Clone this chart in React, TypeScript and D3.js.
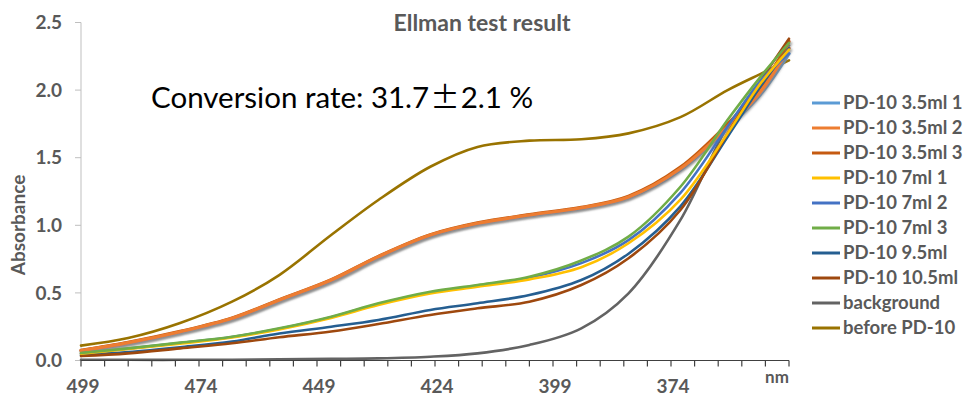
import React from "react";
import * as d3 from "d3";

const wavelengths = [499, 489, 478, 467, 457, 446, 436, 425, 415, 404, 393, 383, 372, 362, 355, 349];

const seriesNames = [
  "PD-10 3.5ml 1",
  "PD-10 3.5ml 2",
  "PD-10 3.5ml 3",
  "PD-10 7ml 1",
  "PD-10 7ml 2",
  "PD-10 7ml 3",
  "PD-10 9.5ml",
  "PD-10 10.5ml",
  "background",
  "before PD-10",
];

const seriesColors = [
  "#5B9BD5",
  "#ED7D31",
  "#C55A11",
  "#FFC000",
  "#4472C4",
  "#70AD47",
  "#255E91",
  "#9E480E",
  "#636363",
  "#997300",
];

const pd35ml1 = [0.072, 0.13, 0.211, 0.31, 0.445, 0.592, 0.765, 0.925, 1.012, 1.073, 1.127, 1.205, 1.41, 1.72, 1.97, 2.27];
const pd35ml2 = [0.073, 0.132, 0.213, 0.312, 0.447, 0.595, 0.768, 0.928, 1.015, 1.076, 1.13, 1.21, 1.42, 1.73, 1.99, 2.31];
const pd35ml3 = [0.075, 0.134, 0.215, 0.314, 0.449, 0.597, 0.77, 0.93, 1.018, 1.079, 1.133, 1.215, 1.43, 1.75, 2.02, 2.36];
const pd7ml1 = [0.05, 0.085, 0.125, 0.17, 0.23, 0.315, 0.41, 0.495, 0.545, 0.6, 0.69, 0.867, 1.19, 1.68, 2.05, 2.3];
const pd7ml2 = [0.053, 0.088, 0.13, 0.174, 0.235, 0.32, 0.418, 0.503, 0.552, 0.612, 0.72, 0.89, 1.24, 1.73, 2.07, 2.27];
const pd7ml3 = [0.055, 0.09, 0.132, 0.176, 0.238, 0.324, 0.423, 0.509, 0.558, 0.62, 0.74, 0.916, 1.285, 1.78, 2.1, 2.35];
const pd95ml = [0.04, 0.062, 0.098, 0.14, 0.2, 0.25, 0.3, 0.374, 0.423, 0.484, 0.595, 0.79, 1.14, 1.655, 2.03, 2.31];
const pd105ml = [0.033, 0.053, 0.09, 0.127, 0.172, 0.215, 0.27, 0.337, 0.386, 0.435, 0.558, 0.756, 1.113, 1.68, 2.07, 2.38];
const backgroundVals = [0.005, 0.005, 0.005, 0.006, 0.008, 0.012, 0.016, 0.028, 0.053, 0.115, 0.238, 0.497, 1.04, 1.73, 2.04, 2.33];
const beforePD10 = [0.11, 0.166, 0.277, 0.435, 0.632, 0.928, 1.187, 1.433, 1.58, 1.626, 1.636, 1.68, 1.8, 2.0, 2.12, 2.22];

const seriesValues = [pd35ml1, pd35ml2, pd35ml3, pd7ml1, pd7ml2, pd7ml3, pd95ml, pd105ml, backgroundVals, beforePD10];

const yTicks = [0, 0.5, 1.0, 1.5, 2.0, 2.5];
const xLabelTicks = [499, 474, 449, 424, 399, 374];
const xMinorTicks = d3.range(499, 348, -5);

const W = 963;
const H = 396;
const L = 81;
const R = 789;
const T = 22.5;
const B = 360.5;

const FONT = "Lato, 'Open Sans', sans-serif";
const GRAY = "#595959";

export default function App() {
  const x = d3.scaleLinear().domain([499, 349]).range([L, R]);
  const y = d3.scaleLinear().domain([0, 2.5]).range([B, T]);
  const line = d3
    .line<number>()
    .x((_, i) => x(wavelengths[i]))
    .y((d) => y(d))
    .curve(d3.curveCatmullRom.alpha(0.5));

  const order = [9, 8, 0, 2, 1, 6, 7, 4, 3, 5];

  return (
    <svg
      width={W}
      height={H}
      style={{ position: "absolute", left: 0, top: 0, background: "#fff" }}
    >
      <defs>
        <filter id="shadow" x="-10%" y="-10%" width="120%" height="130%">
          <feDropShadow dx="1.5" dy="2" stdDeviation="1.3" floodColor="#808080" floodOpacity="0.75" />
        </filter>
      </defs>
      <rect x={0} y={0} width={W} height={H} fill="#fff" />

      <text x={482} y={23} textAnchor="middle" dy="0.35em" fontFamily={FONT} fontWeight={700} fontSize={23} fill={GRAY}>
        Ellman test result
      </text>

      <line x1={L} x2={L} y1={T} y2={B} stroke="#BFBFBF" strokeWidth={1} />
      {yTicks.map((t) => (
        <g key={t}>
          <line x1={L - 6} x2={L} y1={y(t)} y2={y(t)} stroke="#BFBFBF" strokeWidth={1} />
          <text x={62} y={y(t)} dy="0.35em" textAnchor="end" fontFamily={FONT} fontWeight={700} fontSize={19} fill={GRAY}>
            {t.toFixed(1)}
          </text>
        </g>
      ))}
      <text
        transform={`translate(18,225) rotate(-90)`}
        textAnchor="middle"
        dy="0.35em"
        fontFamily={FONT}
        fontWeight={700}
        fontSize={19}
        fill={GRAY}
      >
        Absorbance
      </text>

      {order.map((i) => (
        <path
          key={seriesNames[i]}
          d={line(seriesValues[i]) || ""}
          fill="none"
          stroke={seriesColors[i]}
          strokeWidth={i <= 2 ? 3.2 : 2.6}
          strokeLinejoin="round"
          strokeLinecap="round"
          filter={i === 1 || i === 2 ? "url(#shadow)" : undefined}
        />
      ))}

      <line x1={L} x2={R} y1={B} y2={B} stroke="#404040" strokeWidth={1.2} />
      {xMinorTicks.map((t) => (
        <line key={t} x1={x(t)} x2={x(t)} y1={B} y2={B + 6} stroke="#404040" strokeWidth={1.2} />
      ))}
      {xLabelTicks.map((t) => (
        <text key={t} x={x(t) + 2} y={386} dy="0.35em" textAnchor="middle" fontFamily={FONT} fontWeight={700} fontSize={19} fill={GRAY}>
          {t}
        </text>
      ))}
      <text x={777} y={377} dy="0.35em" textAnchor="middle" fontFamily={FONT} fontWeight={700} fontSize={17} fill={GRAY}>
        nm
      </text>

      <text x={151} y={108} fontFamily={FONT} fontSize={29.5} fill="#000">
        Conversion rate: 31.7
        <tspan fontFamily="'Noto Sans CJK JP'" dx={1}>±</tspan>
        <tspan dx={1}>2.1 %</tspan>
      </text>

      {seriesNames.map((n, i) => (
        <g key={n} transform={`translate(0,${103 + 25 * i})`}>
          <line x1={812} x2={840} y1={0} y2={0} stroke={seriesColors[i]} strokeWidth={3} />
          <text x={843} y={0} dy="0.35em" fontFamily={FONT} fontWeight={700} fontSize={18.5} fill={GRAY}>
            {n}
          </text>
        </g>
      ))}
    </svg>
  );
}
